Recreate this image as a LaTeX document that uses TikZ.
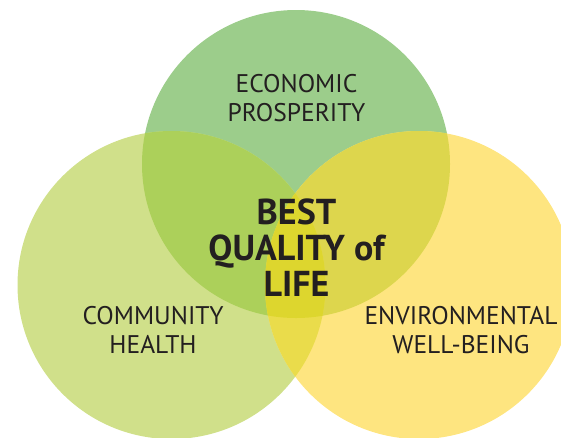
\documentclass[tikz,border=0pt]{standalone}
\usepackage{fontspec}
\setmainfont{PT Sans}
\usetikzlibrary{positioning}

\definecolor{econgreen}{HTML}{9CCD8B}
\definecolor{commlime}{HTML}{D0E08A}
\definecolor{envyellow}{HTML}{FEE580}
\definecolor{econcomm}{HTML}{ACD05A}
\definecolor{econenv}{HTML}{DDD64D}
\definecolor{commenv}{HTML}{EADC4B}
\definecolor{bestcore}{HTML}{DDD62E}
\definecolor{textdark}{HTML}{231F20}

\begin{document}
\begin{tikzpicture}[x=1pt, y=-1pt,
        area/.style={inner sep=0pt, align=center, text=textdark, font=\fontsize{25.5}{29}\selectfont},
        core/.style={inner sep=0pt, align=center, text=textdark, font=\bfseries\fontsize{36}{36}\selectfont}]

        \useasboundingbox (0,0) rectangle (561,437);
        \clip (0,0) rectangle (561,437);

        % Circle centres
        \coordinate (econ) at (296,164);
        \coordinate (comm) at (171.5,285);
        \coordinate (env) at (419,285);

        % Circles
        \fill[econgreen] (econ) circle[radius=154];
        \fill[commlime] (comm) circle[radius=154];
        \fill[envyellow] (env) circle[radius=154];

        % Overlaps
        \begin{scope}
            \clip (econ) circle[radius=154];
            \fill[econcomm] (comm) circle[radius=154];
            \fill[econenv] (env) circle[radius=154];
        \end{scope}
        \begin{scope}
            \clip (comm) circle[radius=154];
            \fill[commenv] (env) circle[radius=154];
            \clip (env) circle[radius=154];
            \fill[bestcore] (econ) circle[radius=154];
        \end{scope}

        % Labels
        \node[area] (econtext) at (296.5,98.5) {ECONOMIC\\PROSPERITY};
        \node[area] (commtext) at (153,330) {COMMUNITY\\HEALTH};
        \node[area] (envtext) at (461,330) {ENVIRONMENTAL\\WELL-BEING};
        \node[core] (besttext) at (296.5,248) {BEST\\QUALITY of\\LIFE};

    \end{tikzpicture}
\end{document}
